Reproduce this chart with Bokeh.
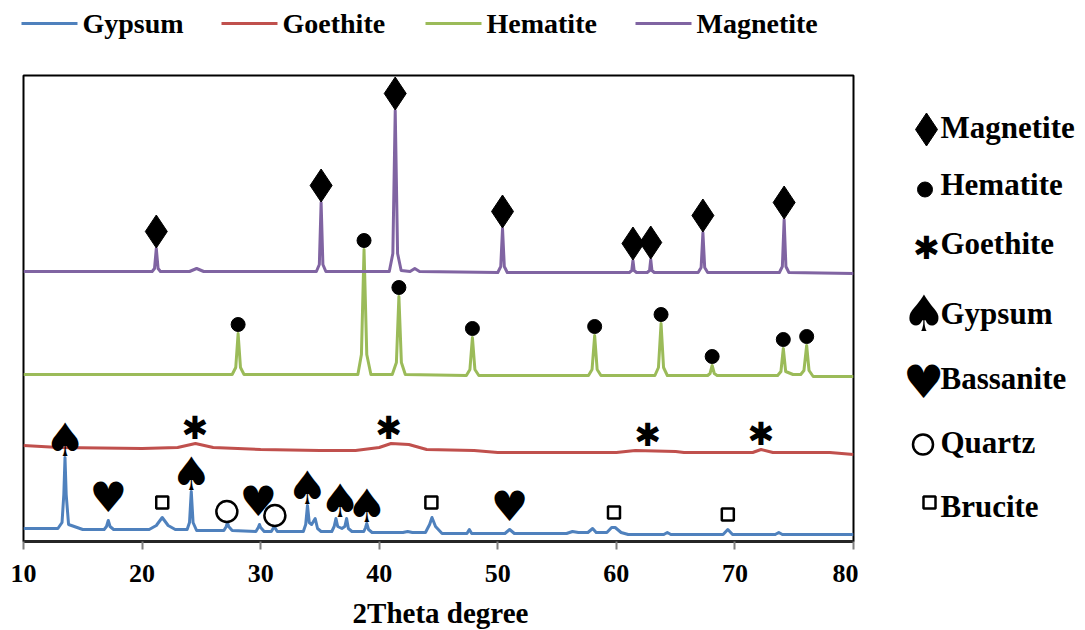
import numpy as np
from bokeh.plotting import figure
from bokeh.models import Range1d, FixedTicker
from bokeh.layouts import row, column
from bokeh.core.properties import value
from bokeh.embed import file_html
from bokeh.resources import INLINE

# ---------------- data ----------------
two_theta_ticks = [10, 20, 30, 40, 50, 60, 70, 80]
x_title = "2Theta degree"
series_names = ["Gypsum", "Goethite", "Hematite", "Magnetite"]
series_colors = ["#4F81BD", "#C0504D", "#9BBB59", "#8064A2"]
series_offsets = [7, 86, 165, 268]          # vertical stacking of the patterns

gyp_x = [10.0, 12.9,
         13.25, 13.4, 13.5, 13.6, 13.8,
         15.0,
         16.8, 17.0, 17.15, 17.3, 17.6,
         20.6, 21.2, 21.7, 22.2, 22.8,
         23.8, 24.0, 24.15, 24.3, 24.6,
         26.9, 27.1, 27.2, 27.3, 27.6,
         29.6, 29.8, 29.9, 30.0, 30.3,
         30.9, 31.15, 31.4,
         33.6, 33.8, 33.95, 34.1, 34.3, 34.6, 34.8, 35.1,
         36.0, 36.2, 36.35, 36.5, 36.85, 37.1, 37.25, 37.4, 37.7,
         38.7, 38.85, 38.95, 39.1, 39.4,
         42.0, 42.4, 42.8,
         43.9, 44.25, 44.45, 44.75, 45.3,
         47.4, 47.6, 47.8,
         50.6, 51.0, 51.4,
         55.8, 56.3, 56.8, 57.6, 58.0, 58.3,
         59.2, 59.6, 59.9, 60.4, 61.0,
         64.0, 64.3, 64.6,
         69.0, 69.4, 69.8,
         73.4, 73.7, 74.0,
         80.0]
gyp_y = [6, 6,
         12, 40, 77, 40, 10,
         5,
         5, 8, 14, 8, 5,
         5, 9, 17, 9, 5,
         5, 12, 43, 12, 4,
         4, 8, 12, 8, 4,
         3, 7, 10, 7, 3,
         3, 8, 3,
         3, 10, 29, 12, 10, 16, 6, 3,
         3, 8, 16, 8, 6, 8, 16, 6, 3,
         3, 7, 11, 5, 2,
         2, 3, 2,
         2, 10, 17, 8, 1,
         1, 5, 1,
         1, 5, 1,
         1, 3, 2, 2, 6, 2,
         2, 7, 7, 2, 0,
         0, 2, 0,
         0, 5, 0,
         0, 2, 0,
         0]

goe_x = [10, 13, 20, 23, 24.5, 26, 30, 35, 38, 40, 41, 42.5, 44, 48, 50,
         55, 60, 61.6, 65, 65.7, 71.5, 72.2, 73.2, 78, 80]
goe_y = [10, 8, 7, 8, 12, 8, 6, 5, 5, 8, 12, 11, 6, 5, 3,
         3, 3, 5, 4, 3, 3, 6, 3, 3, 1]

hem_x = [10.0, 20.0,
         27.6, 27.9, 28.1, 28.3, 28.6,
         38.2, 38.5, 38.72, 38.95, 39.3,
         41.1, 41.45, 41.66, 41.87, 42.2,
         47.35, 47.65, 47.86, 48.07, 48.4,
         57.65, 57.95, 58.17, 58.38, 58.7,
         63.25, 63.55, 63.77, 63.98, 64.3,
         67.7, 67.9, 68.08, 68.26, 68.5,
         73.6, 73.88, 74.08, 74.28, 74.9,
         75.55, 75.82, 76.05, 76.25, 76.6,
         80.0]
hem_y = [2, 2,
         2, 9, 43, 9, 2,
         2, 22, 127, 22, 2,
         2, 14, 80, 14, 2,
         1, 7, 39, 7, 1,
         1, 7, 41, 7, 1,
         1, 9, 53, 9, 1,
         1, 3, 11, 3, 1,
         1, 5, 28, 5, 2,
         2, 6, 31, 6, 0,
         0]

mag_x = [10.0, 20.0,
         20.85, 21.05, 21.2, 21.35, 21.55,
         24.0, 24.6, 25.2,
         34.7, 34.95, 35.1, 35.25, 35.5,
         40.85, 41.15, 41.35, 41.55, 41.85,
         42.6, 43.0, 43.4,
         50.0, 50.25, 50.4, 50.55, 50.8,
         61.1, 61.3, 61.4, 61.5, 61.7,
         62.6, 62.8, 62.9, 63.0, 63.2,
         66.9, 67.15, 67.3, 67.45, 67.7,
         73.75, 74.0, 74.15, 74.3, 74.55,
         80.0]
mag_y = [2, 2,
         2, 5, 25, 5, 2,
         2, 5, 2,
         2, 9, 71, 9, 2,
         2, 20, 163, 20, 3,
         2, 5, 2,
         1, 7, 45, 7, 1,
         1, 3, 13, 3, 1,
         1, 3, 14, 3, 1,
         1, 6, 41, 6, 1,
         1, 7, 54, 7, 1,
         0]

# phase identification (2theta of labelled reflections)
phase_names = ["Magnetite", "Hematite", "Goethite", "Gypsum", "Bassanite", "Quartz", "Brucite"]
magnetite_peaks = [21.2, 35.1, 41.35, 50.4, 61.4, 62.9, 67.3, 74.15]
hematite_peaks = [28.1, 38.72, 41.66, 47.86, 58.17, 63.77, 68.08, 74.08, 76.05]
goethite_peaks = [24.45, 40.8, 62.65, 72.2]
gypsum_peaks = [13.5, 24.15, 33.95, 36.7, 38.95]
bassanite_peaks = [17.15, 29.8, 51.0]
quartz_peaks = [27.15, 31.2]
brucite_peaks = [21.7, 44.4, 59.8, 69.4]

# ---------------- layout constants ----------------
FONT = "Liberation Serif"
SYM = "DejaVu Sans"
W, H = 1085, 630
TOP_H = 73            # strip with the series legend
BOT_H = 32            # strip with the x-axis title
MAIN_W = 858
FRAME_LEFT, FRAME_RIGHT = 23, 853
FRAME_TOP, FRAME_BOTTOM = 75, 541
MID_H = H - TOP_H - BOT_H
B_TOP = FRAME_TOP - TOP_H
B_BOTTOM = TOP_H + MID_H - FRAME_BOTTOM


def level(xs, ys, off, peaks, gap, win=0.6):
    """height of the pattern around each labelled reflection + gap"""
    xs = np.asarray(xs, float)
    ys = np.asarray(ys, float)
    out = []
    for m in peaks:
        cand = [np.interp(m - win, xs, ys), np.interp(m, xs, ys), np.interp(m + win, xs, ys)]
        cand += list(ys[np.abs(xs - m) <= win])
        out.append(off + max(cand) + gap)
    return out


def blank(width, height, xr, yr, **kw):
    f = figure(width=width, height=height, x_range=xr, y_range=yr,
               output_backend="svg", toolbar_location=None,
               x_axis_location=None, y_axis_location=None, **kw)
    f.grid.visible = False
    f.outline_line_color = None
    f.background_fill_color = "white"
    f.border_fill_color = "white"
    return f


# ---------------- main figure ----------------
p = figure(width=MAIN_W, height=MID_H, x_range=Range1d(10, 80), y_range=Range1d(0, 466),
           output_backend="svg", toolbar_location=None,
           min_border_left=FRAME_LEFT, min_border_right=MAIN_W - FRAME_RIGHT,
           min_border_top=B_TOP, min_border_bottom=B_BOTTOM)
p.grid.visible = False
p.yaxis.visible = False
p.outline_line_color = "black"
p.outline_line_width = 2
p.outline_line_alpha = 1
p.background_fill_color = "white"
p.border_fill_color = "white"

ax = p.xaxis[0]
ax.ticker = FixedTicker(ticks=two_theta_ticks)
ax.minor_tick_line_color = None
ax.major_tick_in = 0
ax.major_tick_out = 8
ax.major_tick_line_color = "#7f7f7f"
ax.major_tick_line_width = 2
ax.axis_line_color = "#262626"
ax.axis_line_width = 3
ax.major_label_text_font = FONT
ax.major_label_text_font_style = "bold"
ax.major_label_text_font_size = "26px"
ax.major_label_text_color = "black"
ax.major_label_standoff = 15

xs_all = [gyp_x, goe_x, hem_x, mag_x]
ys_all = [gyp_y, goe_y, hem_y, mag_y]
for name, col, off, xs, ys in zip(series_names, series_colors, series_offsets, xs_all, ys_all):
    p.line(xs, [v + off for v in ys], line_color=col, line_width=3, line_join="round")

gyp_off, goe_off, hem_off, mag_off = series_offsets

p.scatter(magnetite_peaks, level(mag_x, mag_y, mag_off, magnetite_peaks, 17, 0.3),
          marker="diamond", size=33, fill_color="black", line_color="black")
p.scatter(hematite_peaks, level(hem_x, hem_y, hem_off, hematite_peaks, 9, 0.3),
          marker="circle", size=14, fill_color="black", line_color="black")
p.text(goethite_peaks, level(goe_x, goe_y, goe_off, goethite_peaks, 16),
       text=["\u2731"] * len(goethite_peaks), text_font=value(SYM), text_font_size="32px",
       text_align="center", text_baseline="middle", text_color="black")
p.text(gypsum_peaks, level(gyp_x, gyp_y, gyp_off, gypsum_peaks, 18),
       text=["\u2660"] * len(gypsum_peaks), text_font=value(SYM), text_font_size="46px",
       text_align="center", text_baseline="middle", text_color="black")
p.text(bassanite_peaks, level(gyp_x, gyp_y, gyp_off, bassanite_peaks, 23),
       text=["\u2665"] * len(bassanite_peaks), text_font=value(SYM), text_font_size="42px",
       text_align="center", text_baseline="middle", text_color="black")
p.scatter(quartz_peaks, level(gyp_x, gyp_y, gyp_off, quartz_peaks, 11),
          marker="circle", size=21, fill_color="white", line_color="black", line_width=2.5)
p.scatter(brucite_peaks, level(gyp_x, gyp_y, gyp_off, brucite_peaks, 15),
          marker="square", size=12, fill_color="white", line_color="black", line_width=2.5)

# ---------------- series legend strip (top) ----------------
s = blank(W, TOP_H, Range1d(0, W), Range1d(TOP_H, 0), min_border=0)
leg_x0 = [21, 221, 425, 635]      # left end of each sample line
leg_len, leg_gap, leg_y = 56, 5, 23
s.segment(x0=leg_x0, y0=[leg_y] * 4, x1=[x + leg_len for x in leg_x0], y1=[leg_y] * 4,
          line_color=series_colors, line_width=3)
s.text([x + leg_len + leg_gap for x in leg_x0], [leg_y] * 4, text=series_names,
       text_font=value(FONT), text_font_style="bold", text_font_size="28px",
       text_align="left", text_baseline="middle", text_color="black")

# ---------------- phase key (right of the frame) ----------------
k = blank(W - MAIN_W, MID_H, Range1d(MAIN_W, W), Range1d(FRAME_BOTTOM, FRAME_TOP),
          min_border_left=0, min_border_right=0,
          min_border_top=B_TOP, min_border_bottom=B_BOTTOM)

key_text_y = [127, 184, 243, 313, 378, 442, 506]
key_sym_y = [129, 189, 247, 313, 381, 444, 502]
key_sym_x = [926, 924.5, 926, 923.5, 923, 922.5, 929]
key_text_x = 940

k.text([key_text_x] * len(phase_names), key_text_y, text=phase_names, text_font=value(FONT),
       text_font_style="bold", text_font_size="31px", text_align="left",
       text_baseline="middle", text_color="black")
k.scatter([key_sym_x[0]], [key_sym_y[0]], marker="diamond", size=33,
          fill_color="black", line_color="black")
k.scatter([key_sym_x[1]], [key_sym_y[1]], marker="circle", size=15,
          fill_color="black", line_color="black")
k.text([key_sym_x[2]], [key_sym_y[2]], text=["\u2731"], text_font=value(SYM),
       text_font_size="32px", text_align="center", text_baseline="middle", text_color="black")
k.text([key_sym_x[3]], [key_sym_y[3]], text=["\u2660"], text_font=value(SYM),
       text_font_size="50px", text_align="center", text_baseline="middle", text_color="black")
k.text([key_sym_x[4]], [key_sym_y[4]], text=["\u2665"], text_font=value(SYM),
       text_font_size="46px", text_align="center", text_baseline="middle", text_color="black")
k.scatter([key_sym_x[5]], [key_sym_y[5]], marker="circle", size=20, fill_color="white",
          line_color="black", line_width=2.5)
k.scatter([key_sym_x[6]], [key_sym_y[6]], marker="square", size=12, fill_color="white",
          line_color="black", line_width=2.5)

# ---------------- x-axis title strip (bottom) ----------------
b = blank(W, BOT_H, Range1d(0, W), Range1d(H, H - BOT_H), min_border=0)
b.text([(FRAME_LEFT + FRAME_RIGHT) / 2 + 2], [H - BOT_H / 2], text=[x_title],
       text_font=value(FONT), text_font_style="bold", text_font_size="29px",
       text_align="center", text_baseline="middle", text_color="black", y_offset=-2)

layout = column(s, row(p, k), b)
open("out.html", "w").write(file_html(layout, INLINE))
